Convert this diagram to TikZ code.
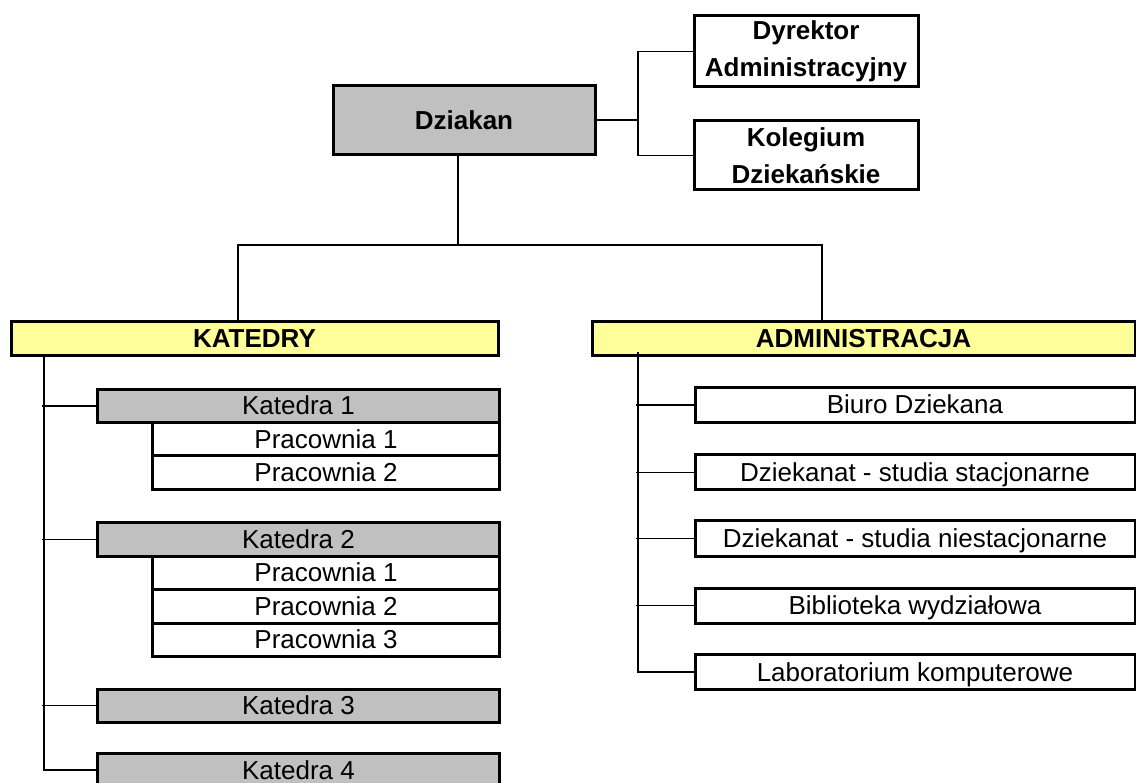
\documentclass[tikz,border=0pt]{standalone}
\usepackage{fontspec}
\setmainfont{Liberation Sans}
\usepackage{tikz}
\usetikzlibrary{positioning}
\definecolor{boxgray}{HTML}{C0C0C0}
\definecolor{boxyellow}{HTML}{FFFF99}
\tikzset{
    box/.style={
           rectangle,
           draw=black, line width=3pt,
           inner sep=0pt, outer sep=0pt,
           text centered,
           font=\fontsize{26}{37}\selectfont,
           },
    onerow/.style={text height=19pt, text depth=1pt},
    topbox/.style={box, align=center,
           font=\fontsize{26}{37}\selectfont\bfseries},
    headbox/.style={box, onerow, fill=boxyellow,
           font=\fontsize{26}{37}\selectfont\bfseries,
           minimum height=34pt},
    katbox/.style={box, onerow, fill=boxgray,
           minimum width=402pt, minimum height=33pt},
    labbox/.style={box, onerow, fill=white,
           minimum width=347pt, minimum height=33.5pt},
    admbox/.style={box, onerow, fill=white,
           minimum width=440pt, minimum height=35pt},
    link/.style={line width=1.7pt},
}
\begin{document}
\begin{tikzpicture}[x=1pt,y=-1pt]
 \useasboundingbox (0,0) rectangle (1136,783);

 % top of the chart
 \node[topbox, fill=boxgray,
  minimum width=262pt,
  minimum height=69pt] (Dziekan) at (464,120) {Dziakan};
 \node[topbox,
  minimum width=224pt,
  minimum height=71pt] (Dyrektor) at (806,51.5) {Dyrektor\\Administracyjny};
 \node[topbox,
  minimum width=224pt,
  minimum height=69pt] (Kolegium) at (806,155.5) {Kolegium\\Dziekańskie};

 % the two branches
 \node[headbox, minimum width=487pt] (Katedry) at (254.5,339) {KATEDRY};
 \node[headbox, minimum width=543pt] (Administracja) at (863.5,339) {ADMINISTRACJA};

 % KATEDRY with their Pracownie
 % Pracownie hang under the right end of each Katedra
 \node[katbox] (Katedra 1) at (298.5,406) {Katedra 1};
 \node[labbox, below=0pt of Katedra 1.south east, anchor=north east] (Pracownia 11) {Pracownia 1};
 \node[labbox, below=0pt of Pracownia 11] (Pracownia 12) {Pracownia 2};

 \node[katbox] (Katedra 2) at (298.5,539.5) {Katedra 2};
 \node[labbox, below=0pt of Katedra 2.south east, anchor=north east] (Pracownia 21) {Pracownia 1};
 \node[labbox, below=0pt of Pracownia 21] (Pracownia 22) {Pracownia 2};
 \node[labbox, below=0pt of Pracownia 22] (Pracownia 23) {Pracownia 3};

 \node[katbox] (Katedra 3) at (298.5,705.5) {Katedra 3};
 \node[katbox] (Katedra 4) at (298.5,770) {Katedra 4};

 % ADMINISTRACJA units
 \node[admbox] (Biuro) at (915,405) {Biuro Dziekana};
 \node[admbox] (Stacjonarne) at (915,472.5) {Dziekanat - studia stacjonarne};
 \node[admbox] (Niestacjonarne) at (915,538.5) {Dziekanat - studia niestacjonarne};
 \node[admbox] (Biblioteka) at (915,605.5) {Biblioteka wydziałowa};
 \node[admbox] (Laboratorium) at (915,672) {Laboratorium komputerowe};

 % connectors
 \coordinate (hub) at (638,120);
 \coordinate (katL) at (238,245);
 \coordinate (admR) at (822,245);
 \coordinate (kspine) at (44,354);
 \coordinate (aspine) at (638,352);

 \draw[link] (Dziekan.east) -- (hub);
 \draw[link] (Dyrektor.west) -| (hub) |- (Kolegium.west);
 \draw[link] ([xshift=-6pt]Dziekan.south) -- ([xshift=-6pt]Dziekan.south |- katL);
 \draw[link] (Katedry.north -| katL) -- (katL) -- (admR) -- (Administracja.north -| admR);

 \draw[link] (kspine) |- (Katedra 4.west);
 \foreach \k in {Katedra 1,Katedra 2,Katedra 3}
  \draw[link] ([xshift=-2pt]kspine |- \k.west) -- (\k.west);

 \draw[link] (aspine) |- (Laboratorium.west);
 \foreach \a in {Biuro,Stacjonarne,Niestacjonarne,Biblioteka}
  \draw[link] ([xshift=-2pt]aspine |- \a.west) -- (\a.west);

\end{tikzpicture}
\end{document}
